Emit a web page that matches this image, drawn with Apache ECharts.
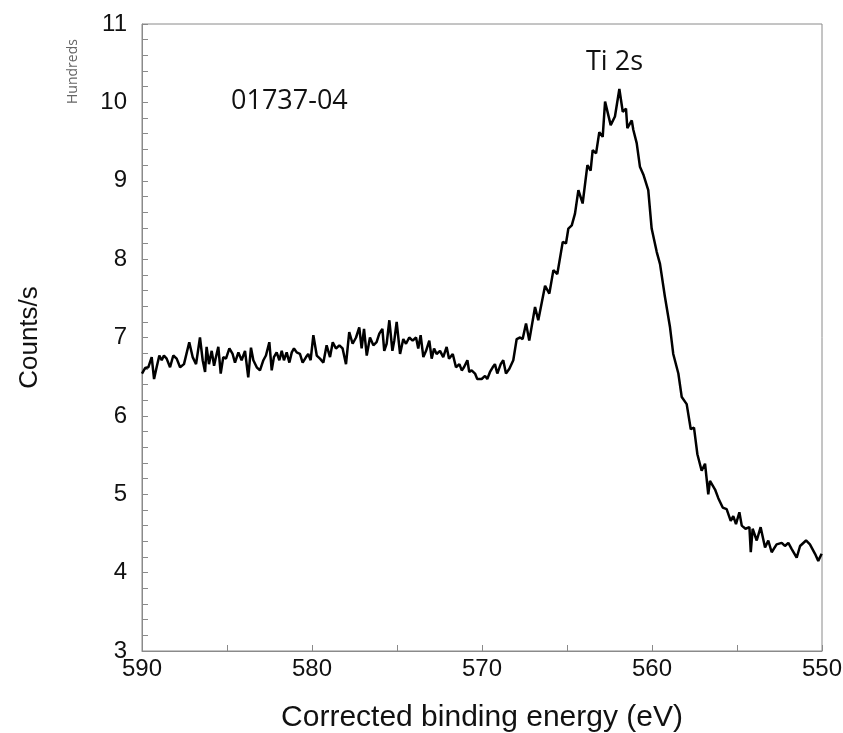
<!DOCTYPE html>
<html>
<head>
<meta charset="utf-8">
<title>Ti 2s spectrum</title>
<script src="https://cdn.jsdelivr.net/npm/echarts@6/dist/echarts.min.js"></script>
<style>
  html, body { margin: 0; padding: 0; background: #fff; }
  #chart { width: 843px; height: 733px; }
</style>
</head>
<body>
<div id="chart"></div>
<script>
// Corrected binding energy (eV), high to low
const energy = [
  590.00, 589.82, 589.63, 589.43, 589.29, 589.14, 588.98, 588.84, 588.71, 588.55,
  588.35, 588.16, 587.96, 587.76, 587.53, 587.22, 587.02, 586.82, 586.59, 586.43,
  586.29, 586.20, 586.06, 585.90, 585.76, 585.65, 585.51, 585.37, 585.22, 585.06,
  584.86, 584.67, 584.53, 584.33, 584.14, 583.94, 583.75, 583.59, 583.45, 583.25,
  583.06, 582.86, 582.71, 582.51, 582.37, 582.24, 582.08, 581.92, 581.78, 581.65,
  581.49, 581.33, 581.19, 581.06, 580.90, 580.71, 580.55, 580.35, 580.22, 580.08,
  579.92, 579.72, 579.53, 579.33, 579.14, 578.94, 578.78, 578.59, 578.39, 578.20,
  578.00, 577.81, 577.61, 577.41, 577.22, 577.08, 576.94, 576.78, 576.59, 576.39,
  576.20, 576.04,
  575.86, 575.75, 575.61, 575.45, 575.27, 575.16, 575.02, 574.82, 574.63, 574.47,
  574.28, 574.08, 573.88, 573.75, 573.61, 573.45, 573.29, 573.10, 572.96, 572.82,
  572.67, 572.47, 572.28, 572.08, 571.94, 571.72, 571.53, 571.33, 571.19, 571.06,
  570.86, 570.75, 570.61, 570.41, 570.28, 570.02, 569.82, 569.69, 569.53, 569.37,
  569.24, 569.10, 568.90, 568.75, 568.59, 568.39, 568.16, 567.96, 567.76, 567.61,
  567.41, 567.22,
  566.88, 566.69, 566.29, 566.04, 565.80, 565.57, 565.25, 565.06, 564.92, 564.72,
  564.53, 564.33, 564.08, 563.80, 563.61, 563.49, 563.29, 563.10, 562.90, 562.76,
  562.43, 562.18, 561.92, 561.72,
  561.53, 561.45, 561.19, 561.10, 560.90, 560.71, 560.51, 560.22, 560.02, 559.72,
  559.53, 559.24, 558.94, 558.75, 558.45, 558.25, 557.96, 557.72, 557.53, 557.33,
  557.08, 556.88, 556.69, 556.59, 556.29, 556.10, 555.84, 555.61, 555.37, 555.22,
  555.06, 554.86, 554.72, 554.50, 554.27, 554.19, 554.08, 553.84, 553.61, 553.35,
  553.16, 552.96, 552.67, 552.37, 552.18, 551.98, 551.78, 551.49, 551.29, 550.94,
  550.71, 550.41, 550.22, 550.02
];

// Counts/s in hundreds, one per energy above
const counts = [
  6.54, 6.61, 6.62, 6.75, 6.47, 6.62, 6.77, 6.71, 6.77, 6.73,
  6.62, 6.77, 6.73, 6.62, 6.66, 6.94, 6.75, 6.66, 7.00, 6.71,
  6.56, 6.88, 6.66, 6.83, 6.64, 6.75, 6.88, 6.54, 6.75, 6.73,
  6.86, 6.79, 6.68, 6.81, 6.71, 6.83, 6.49, 6.87, 6.71, 6.62,
  6.58, 6.71, 6.77, 6.94, 6.58, 6.75, 6.81, 6.71, 6.83, 6.71,
  6.81, 6.68, 6.81, 6.86, 6.81, 6.79, 6.68, 6.75, 6.79, 6.71,
  7.03, 6.77, 6.73, 6.68, 6.90, 6.75, 6.94, 6.86, 6.90, 6.86,
  6.66, 7.07, 6.92, 7.00, 7.13, 6.86, 7.11, 6.77, 7.00, 6.90,
  6.94, 7.05,
  7.11, 6.83, 6.92, 7.22, 6.83, 6.96, 7.20, 6.79, 6.98, 6.92,
  7.00, 6.96, 7.00, 6.86, 7.03, 6.75, 6.83, 6.96, 6.73, 6.86,
  6.79, 6.83, 6.75, 6.88, 6.73, 6.79, 6.62, 6.66, 6.58, 6.62,
  6.71, 6.56, 6.58, 6.54, 6.47, 6.47, 6.51, 6.47, 6.56, 6.62,
  6.66, 6.54, 6.66, 6.71, 6.54, 6.60, 6.71, 6.98, 7.00, 6.98,
  7.18, 6.96,
  7.39, 7.22, 7.66, 7.56, 7.86, 7.81, 8.22, 8.20, 8.39, 8.43,
  8.58, 8.88, 8.71, 9.20, 9.13, 9.39, 9.35, 9.62, 9.56, 10.01,
  9.71, 9.82, 10.17, 9.88,
  9.92, 9.67, 9.77, 9.65, 9.48, 9.18, 9.08, 8.88, 8.39, 8.09,
  7.94, 7.52, 7.13, 6.79, 6.54, 6.24, 6.15, 5.83, 5.85, 5.51,
  5.30, 5.39, 5.00, 5.17, 5.06, 4.95, 4.83, 4.81, 4.66, 4.72,
  4.62, 4.77, 4.60, 4.56, 4.58, 4.26, 4.56, 4.41, 4.58, 4.32,
  4.41, 4.26, 4.36, 4.38, 4.34, 4.38, 4.30, 4.19, 4.34, 4.41,
  4.36, 4.24, 4.15, 4.24
];

const sampleLabel = '01737-04';
const peakLabel = 'Ti 2s';
const unitLabel = 'Hundreds';

const seriesData = energy.map((e, i) => [e, counts[i]]);

const chart = echarts.init(document.getElementById('chart'), null, { renderer: 'canvas' });
const axisGray = '#8a8a8a';
const textFont = 'Liberation Sans, Arial, sans-serif';
const noteFont = 'Open Sans, Lato, sans-serif';

chart.setOption({
  animation: false,
  backgroundColor: '#ffffff',
  grid: {
    left: 142, right: 21, top: 24, bottom: 82,
    outerBoundsMode: 'none',
    containLabel: false,
    show: true, borderColor: axisGray, borderWidth: 1
  },
  xAxis: {
    type: 'value',
    min: 550, max: 590, interval: 10,
    inverse: true,
    name: 'Corrected binding energy (eV)',
    nameLocation: 'middle',
    nameGap: 52,
    nameTextStyle: { fontSize: 30, color: '#111', fontFamily: textFont },
    axisLine: { show: true, lineStyle: { color: axisGray, width: 1 } },
    axisTick: { show: true, inside: true, length: 6, lineStyle: { color: axisGray } },
    minorTick: { show: true, splitNumber: 2, length: 6, lineStyle: { color: axisGray } },
    axisLabel: { fontSize: 24, color: '#111', margin: 6, fontFamily: textFont },
    splitLine: { show: false }
  },
  yAxis: {
    type: 'value',
    min: 3, max: 11, interval: 1,
    name: 'Counts/s',
    nameLocation: 'middle',
    nameGap: 99,
    nameTextStyle: { fontSize: 26, color: '#111', fontFamily: textFont },
    axisLine: { show: true, lineStyle: { color: axisGray, width: 1 } },
    axisTick: { show: true, inside: true, length: 6, lineStyle: { color: axisGray } },
    minorTick: { show: true, splitNumber: 5, length: 6, lineStyle: { color: axisGray } },
    axisLabel: { fontSize: 24, color: '#111', margin: 15, fontFamily: textFont },
    splitLine: { show: false }
  },
  series: [{
    type: 'line',
    data: seriesData,
    showSymbol: false,
    symbol: 'none',
    lineStyle: { color: '#000', width: 2.5 },
    z: 3
  }],
  graphic: [
    {
      type: 'text', left: 231, top: 88,
      style: { text: sampleLabel, font: '27px ' + noteFont, fill: '#111' }
    },
    {
      type: 'text', left: 586, top: 49,
      style: { text: peakLabel, font: '27px ' + noteFont, fill: '#111' }
    },
    {
      type: 'text', x: 66, y: 104, rotation: Math.PI / 2,
      style: { text: unitLabel, font: '14px ' + noteFont, fill: '#666' }
    }
  ]
});
</script>
</body>
</html>
